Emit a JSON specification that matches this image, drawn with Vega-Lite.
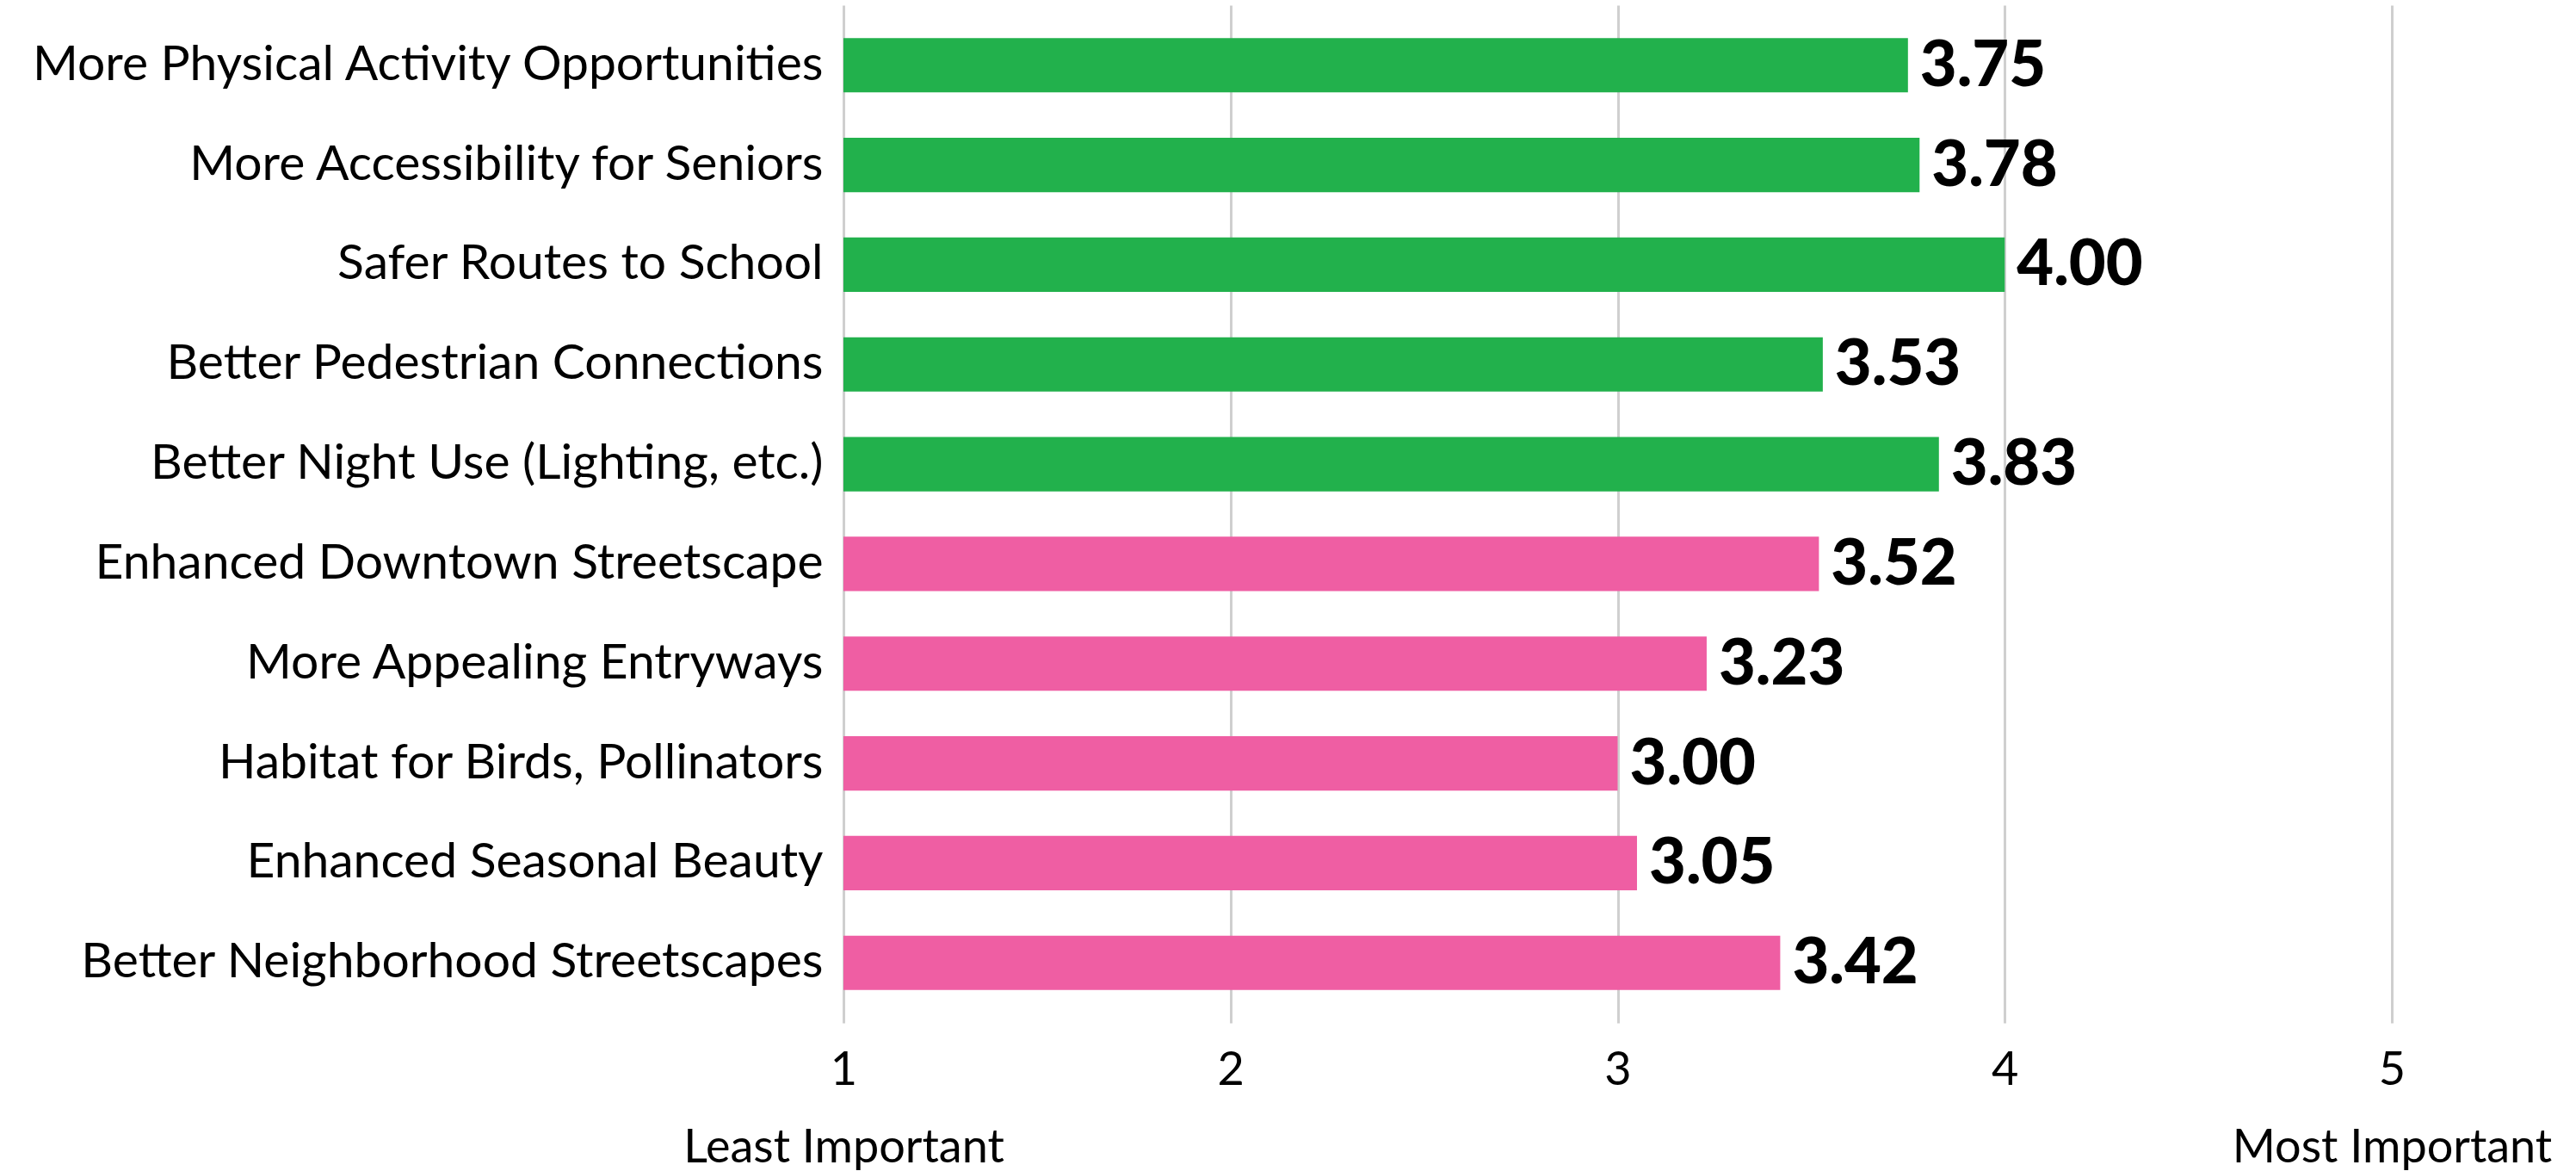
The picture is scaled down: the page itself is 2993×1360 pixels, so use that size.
{
  "$schema": "https://vega.github.io/schema/vega-lite/v6.json",
  "autosize": {"type": "none"},
  "padding": {"left": 980, "top": 6, "right": 214, "bottom": 172},
  "width": 1799,
  "height": 1182,
  "background": "white",
  "data": {"values": [
    {"item": "More Physical Activity Opportunities", "score": 3.75, "group": "A"},
    {"item": "More Accessibility for Seniors", "score": 3.78, "group": "A"},
    {"item": "Safer Routes to School", "score": 4.00, "group": "A"},
    {"item": "Better Pedestrian Connections", "score": 3.53, "group": "A"},
    {"item": "Better Night Use (Lighting, etc.)", "score": 3.83, "group": "A"},
    {"item": "Enhanced Downtown Streetscape", "score": 3.52, "group": "B"},
    {"item": "More Appealing Entryways", "score": 3.23, "group": "B"},
    {"item": "Habitat for Birds, Pollinators", "score": 3.00, "group": "B"},
    {"item": "Enhanced Seasonal Beauty", "score": 3.05, "group": "B"},
    {"item": "Better Neighborhood Streetscapes", "score": 3.42, "group": "B"}
  ]},
  "config": {
    "view": {"stroke": null},
    "font": "Lato",
    "axis": {"labelFont": "Lato", "labelColor": "#000000"}
  },
  "encoding": {
    "y": {
      "field": "item", "type": "nominal", "sort": null,
      "scale": {"paddingInner": 0.455, "paddingOuter": 0.33},
      "axis": {"title": null, "domain": false, "ticks": false, "labelFontSize": 57, "labelPadding": 24, "labelLimit": 1000}
    },
    "x": {
      "field": "score", "type": "quantitative",
      "scale": {"domain": [1, 5], "nice": false, "zero": false},
      "axis": {
        "title": null, "domain": false, "ticks": false,
        "values": [1, 2, 3, 4, 5],
        "grid": true, "gridColor": "#cfcfcf", "gridWidth": 3,
        "labelFontSize": 54, "labelPadding": 28, "labelLineHeight": 90,
        "labelFlush": false, "labelAlign": "center", "labelLimit": 1000, "labelOverlap": false,
        "labelExpr": "datum.value == 1 ? ['1', 'Least Important'] : datum.value == 5 ? ['5', 'Most Important'] : datum.label"
      }
    }
  },
  "layer": [
    {
      "mark": {"type": "bar"},
      "encoding": {
        "x2": {"datum": 1},
        "color": {"field": "group", "type": "nominal", "legend": null,
          "scale": {"domain": ["A", "B"], "range": ["#22b14c", "#ef5ea3"]}}
      }
    },
    {
      "mark": {"type": "text", "align": "left", "baseline": "middle", "dx": 14, "dy": 2, "fontSize": 74, "fontWeight": 900, "font": "Lato", "color": "#000000"},
      "encoding": {
        "text": {"field": "score", "type": "quantitative", "format": ".2f"}
      }
    }
  ]
}
